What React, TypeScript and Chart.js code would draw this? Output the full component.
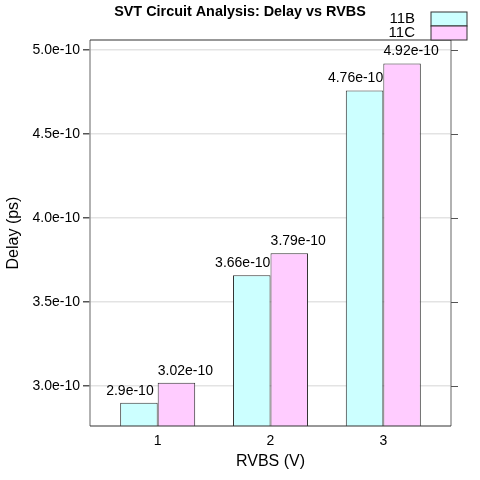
import { Chart, registerables } from 'chart.js';
import { useEffect, useRef } from 'react';

Chart.register(...registerables);

const rvbs = [1, 2, 3];
const delay11B = [2.9e-10, 3.66e-10, 4.76e-10];
const delay11C = [3.02e-10, 3.79e-10, 4.92e-10];
const labels11B = ['2.9e-10', '3.66e-10', '4.76e-10'];
const labels11C = ['3.02e-10', '3.79e-10', '4.92e-10'];
const yTicks = [3.0e-10, 3.5e-10, 4.0e-10, 4.5e-10, 5.0e-10];
const seriesNames = ['11B', '11C'];
const fills = ['#ccffff', '#ffccff'];

const FONT = 'Liberation Sans, Arial, Helvetica, sans-serif';

const decorPlugin = {
  id: 'decor',
  afterDatasetsDraw(chart: Chart) {
    const { ctx, chartArea: a } = chart;
    ctx.save();

    // value labels above bars
    ctx.font = `14px ${FONT}`;
    ctx.fillStyle = '#000';
    ctx.textAlign = 'center';
    ctx.textBaseline = 'bottom';
    [labels11B, labels11C].forEach((texts, di) => {
      const meta = chart.getDatasetMeta(di);
      meta.data.forEach((bar: any, i: number) => {
        const dx = di === 0 ? -9 : 9;
        ctx.fillText(texts[i], bar.x + dx, bar.y - 5);
      });
    });

    // panel box
    ctx.lineWidth = 1.5;
    ctx.strokeStyle = '#999';
    ctx.beginPath();
    ctx.moveTo(a.left, a.top);
    ctx.lineTo(a.left, a.bottom);
    ctx.moveTo(a.right, a.top);
    ctx.lineTo(a.right, a.bottom);
    ctx.stroke();
    ctx.strokeStyle = '#333';
    ctx.lineWidth = 1.2;
    ctx.beginPath();
    ctx.moveTo(a.left, a.top);
    ctx.lineTo(a.right, a.top);
    ctx.moveTo(a.left, a.bottom);
    ctx.lineTo(a.right, a.bottom);
    ctx.stroke();

    // right-side tick marks
    const y = chart.scales.y;
    ctx.strokeStyle = '#555';
    ctx.lineWidth = 1;
    ctx.beginPath();
    yTicks.forEach((v) => {
      const py = Math.round(y.getPixelForValue(v)) + 0.5;
      ctx.moveTo(a.right, py);
      ctx.lineTo(a.right + 7, py);
    });
    ctx.stroke();

    // title
    ctx.font = `bold 14.4px ${FONT}`;
    ctx.textAlign = 'center';
    ctx.textBaseline = 'middle';
    ctx.fillText('SVT Circuit Analysis: Delay vs RVBS', 240, 12);

    // axis titles
    ctx.font = `16px ${FONT}`;
    ctx.fillText('RVBS (V)', (a.left + a.right) / 2, 462);
    ctx.save();
    ctx.translate(14, (a.top + a.bottom) / 2);
    ctx.rotate(-Math.PI / 2);
    ctx.fillText('Delay (ps)', 0, 0);
    ctx.restore();

    // legend
    ctx.font = `15px ${FONT}`;
    ctx.textAlign = 'right';
    seriesNames.forEach((name, i) => {
      const top = 12 + i * 14;
      ctx.fillStyle = fills[i];
      ctx.fillRect(431, top, 36, 14);
      ctx.strokeStyle = '#333';
      ctx.strokeRect(431, top, 36, 14);
      ctx.fillStyle = '#000';
      ctx.fillText(name, 415, top + 7);
    });

    ctx.restore();
  },
};

export default function App() {
  const canvasRef = useRef<HTMLCanvasElement>(null);

  useEffect(() => {
    const canvas = canvasRef.current;
    if (!canvas) return undefined;

    const chart = new Chart(canvas, {
      type: 'bar',
      data: {
        datasets: [
          {
            label: seriesNames[0],
            data: rvbs.map((x, i) => ({ x, y: delay11B[i] })),
            backgroundColor: fills[0],
            borderColor: '#333',
            borderWidth: 1,
            barPercentage: 1,
            categoryPercentage: 0.665,
          },
          {
            label: seriesNames[1],
            data: rvbs.map((x, i) => ({ x, y: delay11C[i] })),
            backgroundColor: fills[1],
            borderColor: '#333',
            borderWidth: 1,
            barPercentage: 1,
            categoryPercentage: 0.665,
          },
        ],
      },
      options: {
        animation: false,
        responsive: false,
        layout: { padding: { left: 0, right: 29, top: 40, bottom: 0 } },
        plugins: {
          legend: { display: false },
          title: { display: false },
          tooltip: { enabled: false },
        },
        scales: {
          x: {
            type: 'linear',
            min: 0.4,
            max: 3.6,
            offset: false,
            afterBuildTicks: (scale: any) => {
              scale.ticks = rvbs.map((v) => ({ value: v }));
            },
            afterFit: (scale: any) => {
              scale.height = 54;
            },
            grid: { display: false, drawTicks: false },
            border: { display: false },
            ticks: {
              padding: 7,
              color: '#000',
              font: { family: FONT, size: 14 },
              callback: (v: any) => String(v),
            },
          },
          y: {
            type: 'linear',
            min: 2.762e-10,
            max: 5.06e-10,
            afterBuildTicks: (scale: any) => {
              scale.ticks = yTicks.map((v) => ({ value: v }));
            },
            afterFit: (scale: any) => {
              scale.width = 90;
            },
            grid: {
              color: '#e3e3e3',
              tickColor: '#555',
              tickLength: 7,
              lineWidth: 1.5,
            },
            border: { display: false },
            ticks: {
              padding: 3,
              color: '#000',
              font: { family: FONT, size: 14 },
              callback: (v: any) => Number(v).toExponential(1),
            },
          },
        },
      },
      plugins: [decorPlugin],
    });

    return () => chart.destroy();
  }, []);

  return (
    <div style={{ position: 'absolute', left: 0, top: 0, width: 480, height: 480, background: '#fff' }}>
      <canvas ref={canvasRef} width={480} height={480} style={{ width: 480, height: 480 }} />
    </div>
  );
}
